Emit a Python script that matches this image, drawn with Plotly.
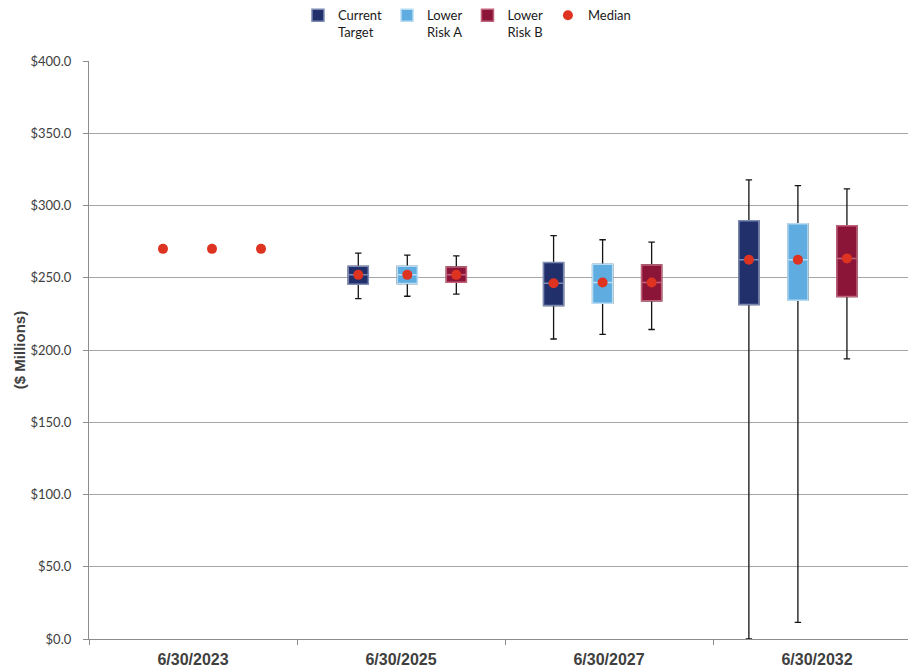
import plotly.graph_objects as go

# Valuation dates shown on the category axis
dates = ["6/30/2023", "6/30/2025", "6/30/2027", "6/30/2032"]
box_dates = dates[1:]

# Scenario names, fills and lighter box edges
scenarios = ["Current<br>Target", "Lower<br>Risk A", "Lower<br>Risk B"]
fill_colors = ["#21306b", "#5eace0", "#8a1538"]
edge_colors = ["#7d8ab3", "#b8dcf3", "#c2637c"]
median_color = "#dd3320"

# Projected distribution percentiles ($ millions) for the projected dates
p95 = [[267.1, 279.1, 317.7], [265.7, 276.3, 313.8], [265.1, 274.7, 311.5]]
p75 = [[257.9, 260.5, 289.4], [257.9, 259.3, 287.3], [257.5, 258.9, 286.0]]
p25 = [[245.5, 230.8, 231.5], [246.0, 232.4, 234.5], [246.9, 234.0, 237.0]]
p5 = [[235.6, 207.6, 0.0], [237.2, 210.8, 11.5], [238.6, 214.2, 193.8]]
medians = [
    [270.0, 252.0, 246.2, 262.5],
    [270.0, 252.0, 246.7, 262.5],
    [270.0, 252.0, 246.7, 263.4],
]

y_ticks = [0, 50, 100, 150, 200, 250, 300, 350, 400]

fig = go.Figure()

for j, name in enumerate(scenarios):
    # whiskers (5th-95th percentile) with caps
    fig.add_trace(go.Box(
        x=box_dates, q1=p25[j], median=medians[j][1:], q3=p75[j],
        lowerfence=p5[j], upperfence=p95[j],
        offsetgroup=str(j), fillcolor="rgba(0,0,0,0)",
        line=dict(color="#141414", width=1.3), whiskerwidth=0.32,
        showlegend=False, hoverinfo="skip", xaxis="x", yaxis="y",
    ))
    # coloured interquartile box
    fig.add_trace(go.Box(
        x=box_dates, q1=p25[j], median=medians[j][1:], q3=p75[j],
        lowerfence=p25[j], upperfence=p75[j],
        offsetgroup=str(j), fillcolor=fill_colors[j],
        line=dict(color=edge_colors[j], width=1.5), whiskerwidth=0,
        name=name, xaxis="x", yaxis="y",
    ))

for j in range(len(scenarios)):
    fig.add_trace(go.Scatter(
        x=dates, y=medians[j], mode="markers", offsetgroup=str(j),
        marker=dict(color=median_color, size=10),
        name="Median", legendgroup="median", showlegend=(j == 0),
        xaxis="x", yaxis="y",
    ))

# label axis: one unit per date, ticks on the boundaries between dates
label_pos = list(range(len(dates)))
boundaries = [i - 0.5 for i in range(len(dates) + 1)]

# empty series that attaches the date-label axis to the plot
fig.add_trace(go.Scatter(
    x=label_pos, y=[None] * len(dates), mode="markers",
    xaxis="x2", yaxis="y", showlegend=False, hoverinfo="skip",
))

grid = "#a6a6a6"
axis_line = "#8c8c8c"
label_color = "#404040"

fig.update_layout(
    width=908, height=670,
    margin=dict(l=89, r=0, t=59, b=31),
    paper_bgcolor="white", plot_bgcolor="white",
    boxmode="group", boxgap=0.247, boxgroupgap=0.59,
    scattermode="group", scattergap=0.247,
    xaxis=dict(
        type="category", categoryorder="array", categoryarray=dates,
        range=[-0.6298, 3.5637], showticklabels=False, ticks="",
        showgrid=False, showline=False, zeroline=False,
    ),
    xaxis2=dict(
        type="linear", overlaying="x", side="bottom", anchor="y",
        range=[-0.5, 3.4375], autorange=False,
        tickvals=label_pos, ticktext=dates, ticks="", ticklabelstandoff=6,
        minor=dict(tickvals=boundaries, ticks="outside", ticklen=5,
                   tickcolor=axis_line, showgrid=False),
        showline=True, linecolor=axis_line, linewidth=1.3,
        showgrid=False, zeroline=False,
        tickfont=dict(family="Liberation Sans", size=16, color=label_color, weight="bold"),
    ),
    yaxis=dict(
        range=[0, 400], tickvals=y_ticks, tickformat="$.1f",
        ticks="outside", ticklen=5, tickcolor=axis_line, ticklabelstandoff=9,
        showline=True, linecolor=axis_line, linewidth=1.3,
        showgrid=True, gridcolor=grid, gridwidth=1.2, zeroline=False,
        tickfont=dict(family="Lato", size=13, color=label_color),
        title=dict(text="($ Millions)", standoff=1,
                   font=dict(family="Liberation Sans", size=15, color=label_color, weight="bold")),
    ),
    legend=dict(
        orientation="h", x=0.4615, xanchor="center", y=1.105, yanchor="top",
        valign="top", itemwidth=30, traceorder="normal",
        font=dict(family="Lato", size=13, color="#1a1a1a"),
        bgcolor="rgba(0,0,0,0)",
    ),
    showlegend=True,
)

fig.write_html("out.html")
